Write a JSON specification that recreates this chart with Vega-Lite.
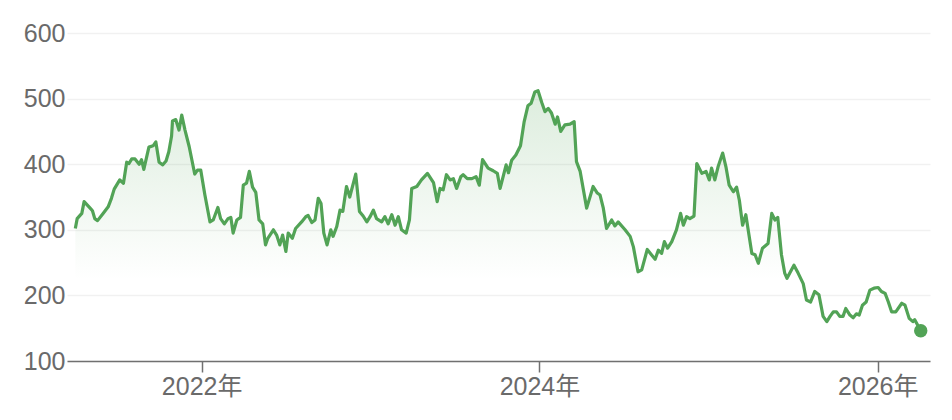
{
  "$schema": "https://vega.github.io/schema/vega-lite/v6.json",
  "width": 863,
  "height": 328,
  "autosize": {"type": "none"},
  "padding": {"left": 67, "top": 33, "right": 22, "bottom": 59},
  "background": "white",
  "config": {
    "view": {"stroke": null},
    "font": "Liberation Sans, Noto Sans CJK JP, sans-serif"
  },
  "data": {"values": [
    {"date": "2021-04-03", "price": 302}, {"date": "2021-04-07", "price": 317}, {"date": "2021-04-17", "price": 325},
    {"date": "2021-04-22", "price": 343}, {"date": "2021-05-05", "price": 333}, {"date": "2021-05-10", "price": 329},
    {"date": "2021-05-15", "price": 317}, {"date": "2021-05-21", "price": 314}, {"date": "2021-06-02", "price": 325},
    {"date": "2021-06-13", "price": 335}, {"date": "2021-06-20", "price": 348}, {"date": "2021-06-26", "price": 362},
    {"date": "2021-07-08", "price": 376}, {"date": "2021-07-16", "price": 371}, {"date": "2021-07-23", "price": 403},
    {"date": "2021-07-28", "price": 401}, {"date": "2021-08-03", "price": 408}, {"date": "2021-08-10", "price": 408},
    {"date": "2021-08-19", "price": 400}, {"date": "2021-08-24", "price": 407}, {"date": "2021-08-29", "price": 392},
    {"date": "2021-09-09", "price": 426}, {"date": "2021-09-18", "price": 428}, {"date": "2021-09-24", "price": 434},
    {"date": "2021-10-01", "price": 403}, {"date": "2021-10-09", "price": 399}, {"date": "2021-10-16", "price": 405},
    {"date": "2021-10-22", "price": 419}, {"date": "2021-10-28", "price": 443}, {"date": "2021-10-30", "price": 466},
    {"date": "2021-11-06", "price": 468}, {"date": "2021-11-13", "price": 452}, {"date": "2021-11-19", "price": 475},
    {"date": "2021-11-26", "price": 452}, {"date": "2021-12-05", "price": 427}, {"date": "2021-12-17", "price": 385},
    {"date": "2021-12-23", "price": 391}, {"date": "2021-12-30", "price": 391}, {"date": "2022-01-08", "price": 353},
    {"date": "2022-01-19", "price": 312}, {"date": "2022-01-26", "price": 315}, {"date": "2022-02-05", "price": 334},
    {"date": "2022-02-11", "price": 317}, {"date": "2022-02-19", "price": 309}, {"date": "2022-02-27", "price": 317},
    {"date": "2022-03-05", "price": 319}, {"date": "2022-03-10", "price": 295}, {"date": "2022-03-18", "price": 315},
    {"date": "2022-03-26", "price": 319}, {"date": "2022-04-01", "price": 368}, {"date": "2022-04-08", "price": 371},
    {"date": "2022-04-14", "price": 389}, {"date": "2022-04-21", "price": 365}, {"date": "2022-04-28", "price": 357},
    {"date": "2022-05-05", "price": 315}, {"date": "2022-05-13", "price": 309}, {"date": "2022-05-19", "price": 277},
    {"date": "2022-05-24", "price": 287}, {"date": "2022-06-05", "price": 300}, {"date": "2022-06-12", "price": 292},
    {"date": "2022-06-19", "price": 277}, {"date": "2022-06-25", "price": 292}, {"date": "2022-07-02", "price": 267},
    {"date": "2022-07-07", "price": 295}, {"date": "2022-07-16", "price": 287}, {"date": "2022-07-23", "price": 302},
    {"date": "2022-08-05", "price": 312}, {"date": "2022-08-14", "price": 320}, {"date": "2022-08-19", "price": 322},
    {"date": "2022-08-27", "price": 311}, {"date": "2022-09-03", "price": 315}, {"date": "2022-09-10", "price": 348},
    {"date": "2022-09-16", "price": 340}, {"date": "2022-09-22", "price": 295}, {"date": "2022-09-29", "price": 277},
    {"date": "2022-10-07", "price": 300}, {"date": "2022-10-12", "price": 290}, {"date": "2022-10-20", "price": 305},
    {"date": "2022-10-27", "price": 330}, {"date": "2022-11-02", "price": 328}, {"date": "2022-11-10", "price": 366},
    {"date": "2022-11-17", "price": 350}, {"date": "2022-11-30", "price": 385}, {"date": "2022-12-08", "price": 328},
    {"date": "2022-12-16", "price": 321}, {"date": "2022-12-24", "price": 312}, {"date": "2022-12-31", "price": 320},
    {"date": "2023-01-07", "price": 330}, {"date": "2023-01-14", "price": 317}, {"date": "2023-01-25", "price": 312},
    {"date": "2023-02-01", "price": 320}, {"date": "2023-02-08", "price": 309}, {"date": "2023-02-16", "price": 323},
    {"date": "2023-02-23", "price": 307}, {"date": "2023-03-02", "price": 320}, {"date": "2023-03-09", "price": 300},
    {"date": "2023-03-19", "price": 295}, {"date": "2023-03-26", "price": 315}, {"date": "2023-03-31", "price": 363},
    {"date": "2023-04-11", "price": 366}, {"date": "2023-04-21", "price": 376}, {"date": "2023-05-04", "price": 386},
    {"date": "2023-05-17", "price": 372}, {"date": "2023-05-25", "price": 343}, {"date": "2023-05-31", "price": 363},
    {"date": "2023-06-07", "price": 361}, {"date": "2023-06-14", "price": 384}, {"date": "2023-06-22", "price": 376},
    {"date": "2023-06-29", "price": 378}, {"date": "2023-07-06", "price": 363}, {"date": "2023-07-15", "price": 381},
    {"date": "2023-07-20", "price": 384}, {"date": "2023-07-29", "price": 378}, {"date": "2023-08-08", "price": 378},
    {"date": "2023-08-17", "price": 381}, {"date": "2023-08-24", "price": 368}, {"date": "2023-08-31", "price": 407},
    {"date": "2023-09-12", "price": 394}, {"date": "2023-09-23", "price": 390}, {"date": "2023-10-02", "price": 386},
    {"date": "2023-10-08", "price": 363}, {"date": "2023-10-21", "price": 399}, {"date": "2023-10-26", "price": 387},
    {"date": "2023-11-02", "price": 406}, {"date": "2023-11-11", "price": 414}, {"date": "2023-11-21", "price": 428},
    {"date": "2023-11-29", "price": 465}, {"date": "2023-12-07", "price": 489}, {"date": "2023-12-14", "price": 493},
    {"date": "2023-12-22", "price": 510}, {"date": "2023-12-29", "price": 512}, {"date": "2024-01-06", "price": 494},
    {"date": "2024-01-13", "price": 480}, {"date": "2024-01-20", "price": 485}, {"date": "2024-01-27", "price": 478},
    {"date": "2024-02-04", "price": 461}, {"date": "2024-02-09", "price": 472}, {"date": "2024-02-16", "price": 450},
    {"date": "2024-02-25", "price": 460}, {"date": "2024-03-07", "price": 461}, {"date": "2024-03-16", "price": 465},
    {"date": "2024-03-21", "price": 404}, {"date": "2024-03-29", "price": 389}, {"date": "2024-04-12", "price": 333},
    {"date": "2024-04-26", "price": 366}, {"date": "2024-05-05", "price": 356}, {"date": "2024-05-11", "price": 353},
    {"date": "2024-05-18", "price": 333}, {"date": "2024-05-25", "price": 302}, {"date": "2024-06-05", "price": 315},
    {"date": "2024-06-12", "price": 306}, {"date": "2024-06-19", "price": 312}, {"date": "2024-07-04", "price": 300},
    {"date": "2024-07-15", "price": 290}, {"date": "2024-07-22", "price": 274}, {"date": "2024-08-01", "price": 236},
    {"date": "2024-08-09", "price": 239}, {"date": "2024-08-21", "price": 270}, {"date": "2024-08-30", "price": 262},
    {"date": "2024-09-07", "price": 255}, {"date": "2024-09-14", "price": 269}, {"date": "2024-09-21", "price": 264},
    {"date": "2024-09-27", "price": 282}, {"date": "2024-10-04", "price": 272}, {"date": "2024-10-13", "price": 282},
    {"date": "2024-10-23", "price": 300}, {"date": "2024-11-01", "price": 325}, {"date": "2024-11-07", "price": 307},
    {"date": "2024-11-14", "price": 320}, {"date": "2024-11-21", "price": 317}, {"date": "2024-11-30", "price": 321},
    {"date": "2024-12-06", "price": 401}, {"date": "2024-12-17", "price": 386}, {"date": "2024-12-26", "price": 389},
    {"date": "2025-01-02", "price": 376}, {"date": "2025-01-07", "price": 394}, {"date": "2025-01-14", "price": 376},
    {"date": "2025-01-21", "price": 396}, {"date": "2025-01-31", "price": 417}, {"date": "2025-02-07", "price": 396},
    {"date": "2025-02-14", "price": 368}, {"date": "2025-02-23", "price": 358}, {"date": "2025-03-02", "price": 365},
    {"date": "2025-03-08", "price": 345}, {"date": "2025-03-15", "price": 307}, {"date": "2025-03-22", "price": 323},
    {"date": "2025-04-04", "price": 264}, {"date": "2025-04-11", "price": 262}, {"date": "2025-04-18", "price": 249},
    {"date": "2025-04-27", "price": 272}, {"date": "2025-05-09", "price": 279}, {"date": "2025-05-17", "price": 325},
    {"date": "2025-05-24", "price": 315}, {"date": "2025-05-30", "price": 319}, {"date": "2025-06-07", "price": 262},
    {"date": "2025-06-14", "price": 234}, {"date": "2025-06-19", "price": 226}, {"date": "2025-06-25", "price": 234},
    {"date": "2025-07-04", "price": 246}, {"date": "2025-07-13", "price": 234}, {"date": "2025-07-24", "price": 218},
    {"date": "2025-07-31", "price": 193}, {"date": "2025-08-09", "price": 190}, {"date": "2025-08-18", "price": 206},
    {"date": "2025-08-27", "price": 201}, {"date": "2025-09-05", "price": 168}, {"date": "2025-09-13", "price": 160},
    {"date": "2025-09-20", "price": 168}, {"date": "2025-09-27", "price": 175}, {"date": "2025-10-04", "price": 175},
    {"date": "2025-10-11", "price": 168}, {"date": "2025-10-18", "price": 168}, {"date": "2025-10-24", "price": 180},
    {"date": "2025-11-02", "price": 170}, {"date": "2025-11-09", "price": 166}, {"date": "2025-11-16", "price": 172},
    {"date": "2025-11-22", "price": 170}, {"date": "2025-11-29", "price": 185}, {"date": "2025-12-07", "price": 190},
    {"date": "2025-12-15", "price": 208}, {"date": "2025-12-24", "price": 211}, {"date": "2026-01-02", "price": 212},
    {"date": "2026-01-09", "price": 206}, {"date": "2026-01-17", "price": 203}, {"date": "2026-01-24", "price": 190},
    {"date": "2026-01-31", "price": 175}, {"date": "2026-02-09", "price": 175}, {"date": "2026-02-22", "price": 188},
    {"date": "2026-03-01", "price": 185}, {"date": "2026-03-10", "price": 165}, {"date": "2026-03-18", "price": 160},
    {"date": "2026-03-22", "price": 163}, {"date": "2026-04-04", "price": 146}
  ]},
  "encoding": {
    "x": {
      "field": "date",
      "type": "temporal",
      "scale": {
        "type": "utc",
        "domain": [
          {"year": 2021, "month": 3, "date": 16, "utc": true},
          {"year": 2026, "month": 4, "date": 24, "utc": true}
        ]
      },
      "axis": {
        "title": null,
        "values": [
          {"year": 2022, "month": 1, "date": 1, "utc": true},
          {"year": 2024, "month": 1, "date": 1, "utc": true},
          {"year": 2026, "month": 1, "date": 1, "utc": true}
        ],
        "labelExpr": "utcFormat(datum.value, '%Y') + '年'",
        "grid": false,
        "domainColor": "#707070",
        "domainWidth": 1.5,
        "tickColor": "#707070",
        "tickWidth": 1.5,
        "tickSize": 11,
        "labelFontSize": 25,
        "labelColor": "#6a6a6a",
        "labelPadding": 2
      }
    },
    "y": {
      "field": "price",
      "type": "quantitative",
      "scale": {"domain": [100, 600], "zero": false, "nice": false},
      "axis": {
        "title": null,
        "values": [100, 200, 300, 400, 500, 600],
        "domain": false,
        "ticks": false,
        "grid": true,
        "gridColor": "#f1f1f1",
        "gridWidth": 1.5,
        "labelFontSize": 25,
        "labelColor": "#6a6a6a",
        "labelPadding": 2
      }
    }
  },
  "layer": [
    {
      "mark": {
        "type": "area",
        "interpolate": "linear",
        "color": {
          "gradient": "linear",
          "x1": 0, "y1": 0, "x2": 0, "y2": 1,
          "stops": [
            {"offset": 0, "color": "rgba(82,163,86,0.2)"},
            {"offset": 0.7, "color": "rgba(82,163,86,0)"}
          ]
        }
      },
      "encoding": {"y2": {"datum": 100}}
    },
    {
      "mark": {"type": "line", "color": "#52a356", "strokeWidth": 3.2, "strokeJoin": "round"},
      "encoding": {}
    },
    {
      "transform": [
        {"window": [{"op": "row_number", "as": "rn"}], "sort": [{"field": "date", "order": "descending"}]},
        {"filter": "datum.rn == 1"}
      ],
      "mark": {"type": "point", "filled": true, "color": "#52a356", "size": 180, "opacity": 1},
      "encoding": {}
    }
  ]
}
